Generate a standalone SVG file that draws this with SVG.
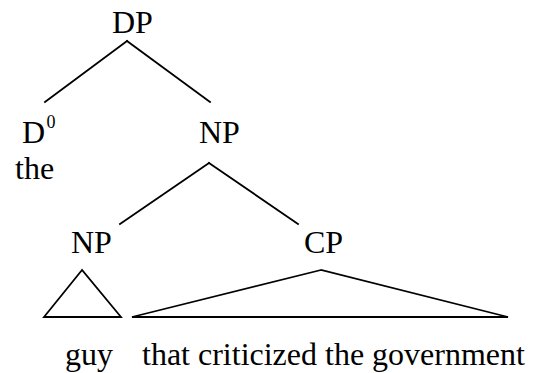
<svg xmlns="http://www.w3.org/2000/svg" width="535" height="373" viewBox="0 0 535 373">
<style>
text{font-family:"Liberation Serif","Times New Roman",serif;font-size:32px;fill:#000}
.sup{font-size:18px}
.e{stroke:#000;stroke-width:1.8;fill:none;stroke-linecap:square}
</style>
<rect width="535" height="373" fill="#fff"/>
<g id="connectors">
<line class="e" x1="127" y1="41" x2="45" y2="102"/>
<line class="e" x1="127" y1="41" x2="210" y2="102"/>
<line class="e" x1="209" y1="163" x2="120" y2="224"/>
<line class="e" x1="209" y1="163" x2="298" y2="224"/>
<polygon class="e" points="82,270 44,317 121,317" stroke-linejoin="miter"/>
<polygon class="e" points="321,270 132,317 508,317" stroke-linejoin="miter"/>
</g>
<g id="DP"><text x="112" y="33">DP</text></g>
<g id="D0"><text x="22" y="143">D</text><text class="sup" x="46.5" y="128">0</text></g>
<g id="the"><text x="15" y="179">the</text></g>
<g id="NP1"><text x="199" y="143">NP</text></g>
<g id="NP2"><text x="71" y="253">NP</text></g>
<g id="CP"><text x="304" y="253">CP</text></g>
<g id="guy"><text x="65" y="365">guy</text></g>
<g id="cptext"><text x="142" y="365">that criticized the government</text></g>
</svg>
